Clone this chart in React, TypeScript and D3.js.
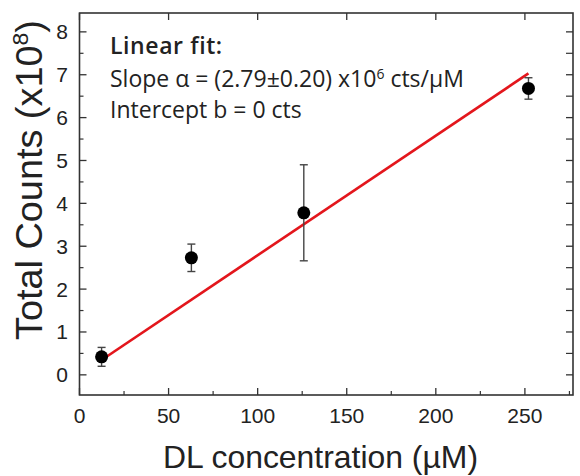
import * as d3 from 'd3';
import React from 'react';

// DL concentration (µM) vs total counts (x10^8)
const concentrations = [12.4, 62.8, 125.9, 252];
const counts = [0.42, 2.73, 3.78, 6.68];
const countErrors = [0.22, 0.32, 1.12, 0.25];

// linear fit through origin, slope in 10^8 cts / µM
const fitSlope = 0.0279;
const fitRange = [12, 252];

const xTicks = [0, 50, 100, 150, 200, 250];
const xMinorTicks = [25, 75, 125, 175, 225, 275];
const yTicks = [0, 1, 2, 3, 4, 5, 6, 7, 8];
const yMinorTicks = [0.5, 1.5, 2.5, 3.5, 4.5, 5.5, 6.5, 7.5];

const W = 580;
const H = 476;
const margin = { top: 13, right: 7, bottom: 81, left: 79.5 };

export default function App() {
  const x = d3.scaleLinear().domain([0, 277]).range([margin.left, W - margin.right]);
  const y = d3.scaleLinear().domain([-0.47, 8.44]).range([H - margin.bottom, margin.top]);

  const x0 = x.range()[0], x1 = x.range()[1];
  const y0 = y.range()[0], y1 = y.range()[1];

  const fitLine = d3.line<number>()
    .x(d => x(d))
    .y(d => y(d * fitSlope));

  const axisColor = '#333';
  const textColor = '#222';
  const major = 7;
  const minor = 4;

  return (
    <svg width={W} height={H} style={{ position: 'absolute', left: 0, top: 0, background: '#fff' }}>
      {/* frame */}
      <rect x={x0} y={y1} width={x1 - x0} height={y0 - y1} fill="none" stroke={axisColor} strokeWidth={1.6} />

      {/* x ticks bottom + top */}
      {xTicks.map(t => (
        <g key={'xt' + t}>
          <line x1={x(t)} x2={x(t)} y1={y0} y2={y0 - major} stroke={axisColor} strokeWidth={1.3} />
          <line x1={x(t)} x2={x(t)} y1={y1} y2={y1 + major} stroke={axisColor} strokeWidth={1.3} />
          <text x={x(t)} y={423} textAnchor="middle" fontFamily="Liberation Sans, Arial" fontSize={21} fill={textColor}>{t}</text>
        </g>
      ))}
      {xMinorTicks.map(t => (
        <line key={'xm' + t} x1={x(t)} x2={x(t)} y1={y0} y2={y0 - minor} stroke={axisColor} strokeWidth={1.2} />
      ))}

      {/* y ticks left + right */}
      {yTicks.map(t => (
        <g key={'yt' + t}>
          <line x1={x0} x2={x0 + major} y1={y(t)} y2={y(t)} stroke={axisColor} strokeWidth={1.3} />
          <line x1={x1} x2={x1 - major} y1={y(t)} y2={y(t)} stroke={axisColor} strokeWidth={1.3} />
          <text x={68} y={y(t) + 7.5} textAnchor="end" fontFamily="Liberation Sans, Arial" fontSize={21} fill={textColor}>{t}</text>
        </g>
      ))}
      {yMinorTicks.map(t => (
        <g key={'ym' + t}>
          <line x1={x0} x2={x0 + minor} y1={y(t)} y2={y(t)} stroke={axisColor} strokeWidth={1.2} />
          <line x1={x1} x2={x1 - major} y1={y(t)} y2={y(t)} stroke={axisColor} strokeWidth={1.2} />
        </g>
      ))}

      {/* fit */}
      <path d={fitLine(fitRange) || ''} fill="none" stroke="#e3161c" strokeWidth={2.6} />

      {/* error bars + points */}
      {concentrations.map((c, i) => {
        const cx = x(c);
        const top = y(counts[i] + countErrors[i]);
        const bot = y(counts[i] - countErrors[i]);
        return (
          <g key={'p' + i}>
            <line x1={cx} x2={cx} y1={top} y2={bot} stroke="#444" strokeWidth={1.4} />
            <line x1={cx - 4} x2={cx + 4} y1={top} y2={top} stroke="#444" strokeWidth={1.4} />
            <line x1={cx - 4} x2={cx + 4} y1={bot} y2={bot} stroke="#444" strokeWidth={1.4} />
            <circle cx={cx} cy={y(counts[i])} r={6.5} fill="#000" />
          </g>
        );
      })}

      {/* annotation */}
      <g fontFamily="Open Sans, Noto Sans" fill={textColor} fontSize={23}>
        <text x={110} y={54} fontWeight={600} letterSpacing={0.6}>Linear fit:</text>
        <text x={110} y={87}>
          Slope α = (2.79±0.20) x10<tspan fontSize={14} dy={-8}>6</tspan><tspan dy={8}> cts/µM</tspan>
        </text>
        <text x={110} y={118}>Intercept b = 0 cts</text>
      </g>

      {/* axis titles */}
      <text x={163} y={468} fontFamily="Liberation Sans, Arial" fontSize={32} fill={textColor}
        textLength={315} lengthAdjust="spacingAndGlyphs">DL concentration (µM)</text>
      <text transform="translate(42,340) rotate(-90)" fontFamily="Liberation Sans, Arial" fontSize={36} fill={textColor}
        textLength={320} lengthAdjust="spacingAndGlyphs">
        Total Counts (x10<tspan fontSize={22} dy={-14}>8</tspan><tspan dy={14}>)</tspan>
      </text>
    </svg>
  );
}
